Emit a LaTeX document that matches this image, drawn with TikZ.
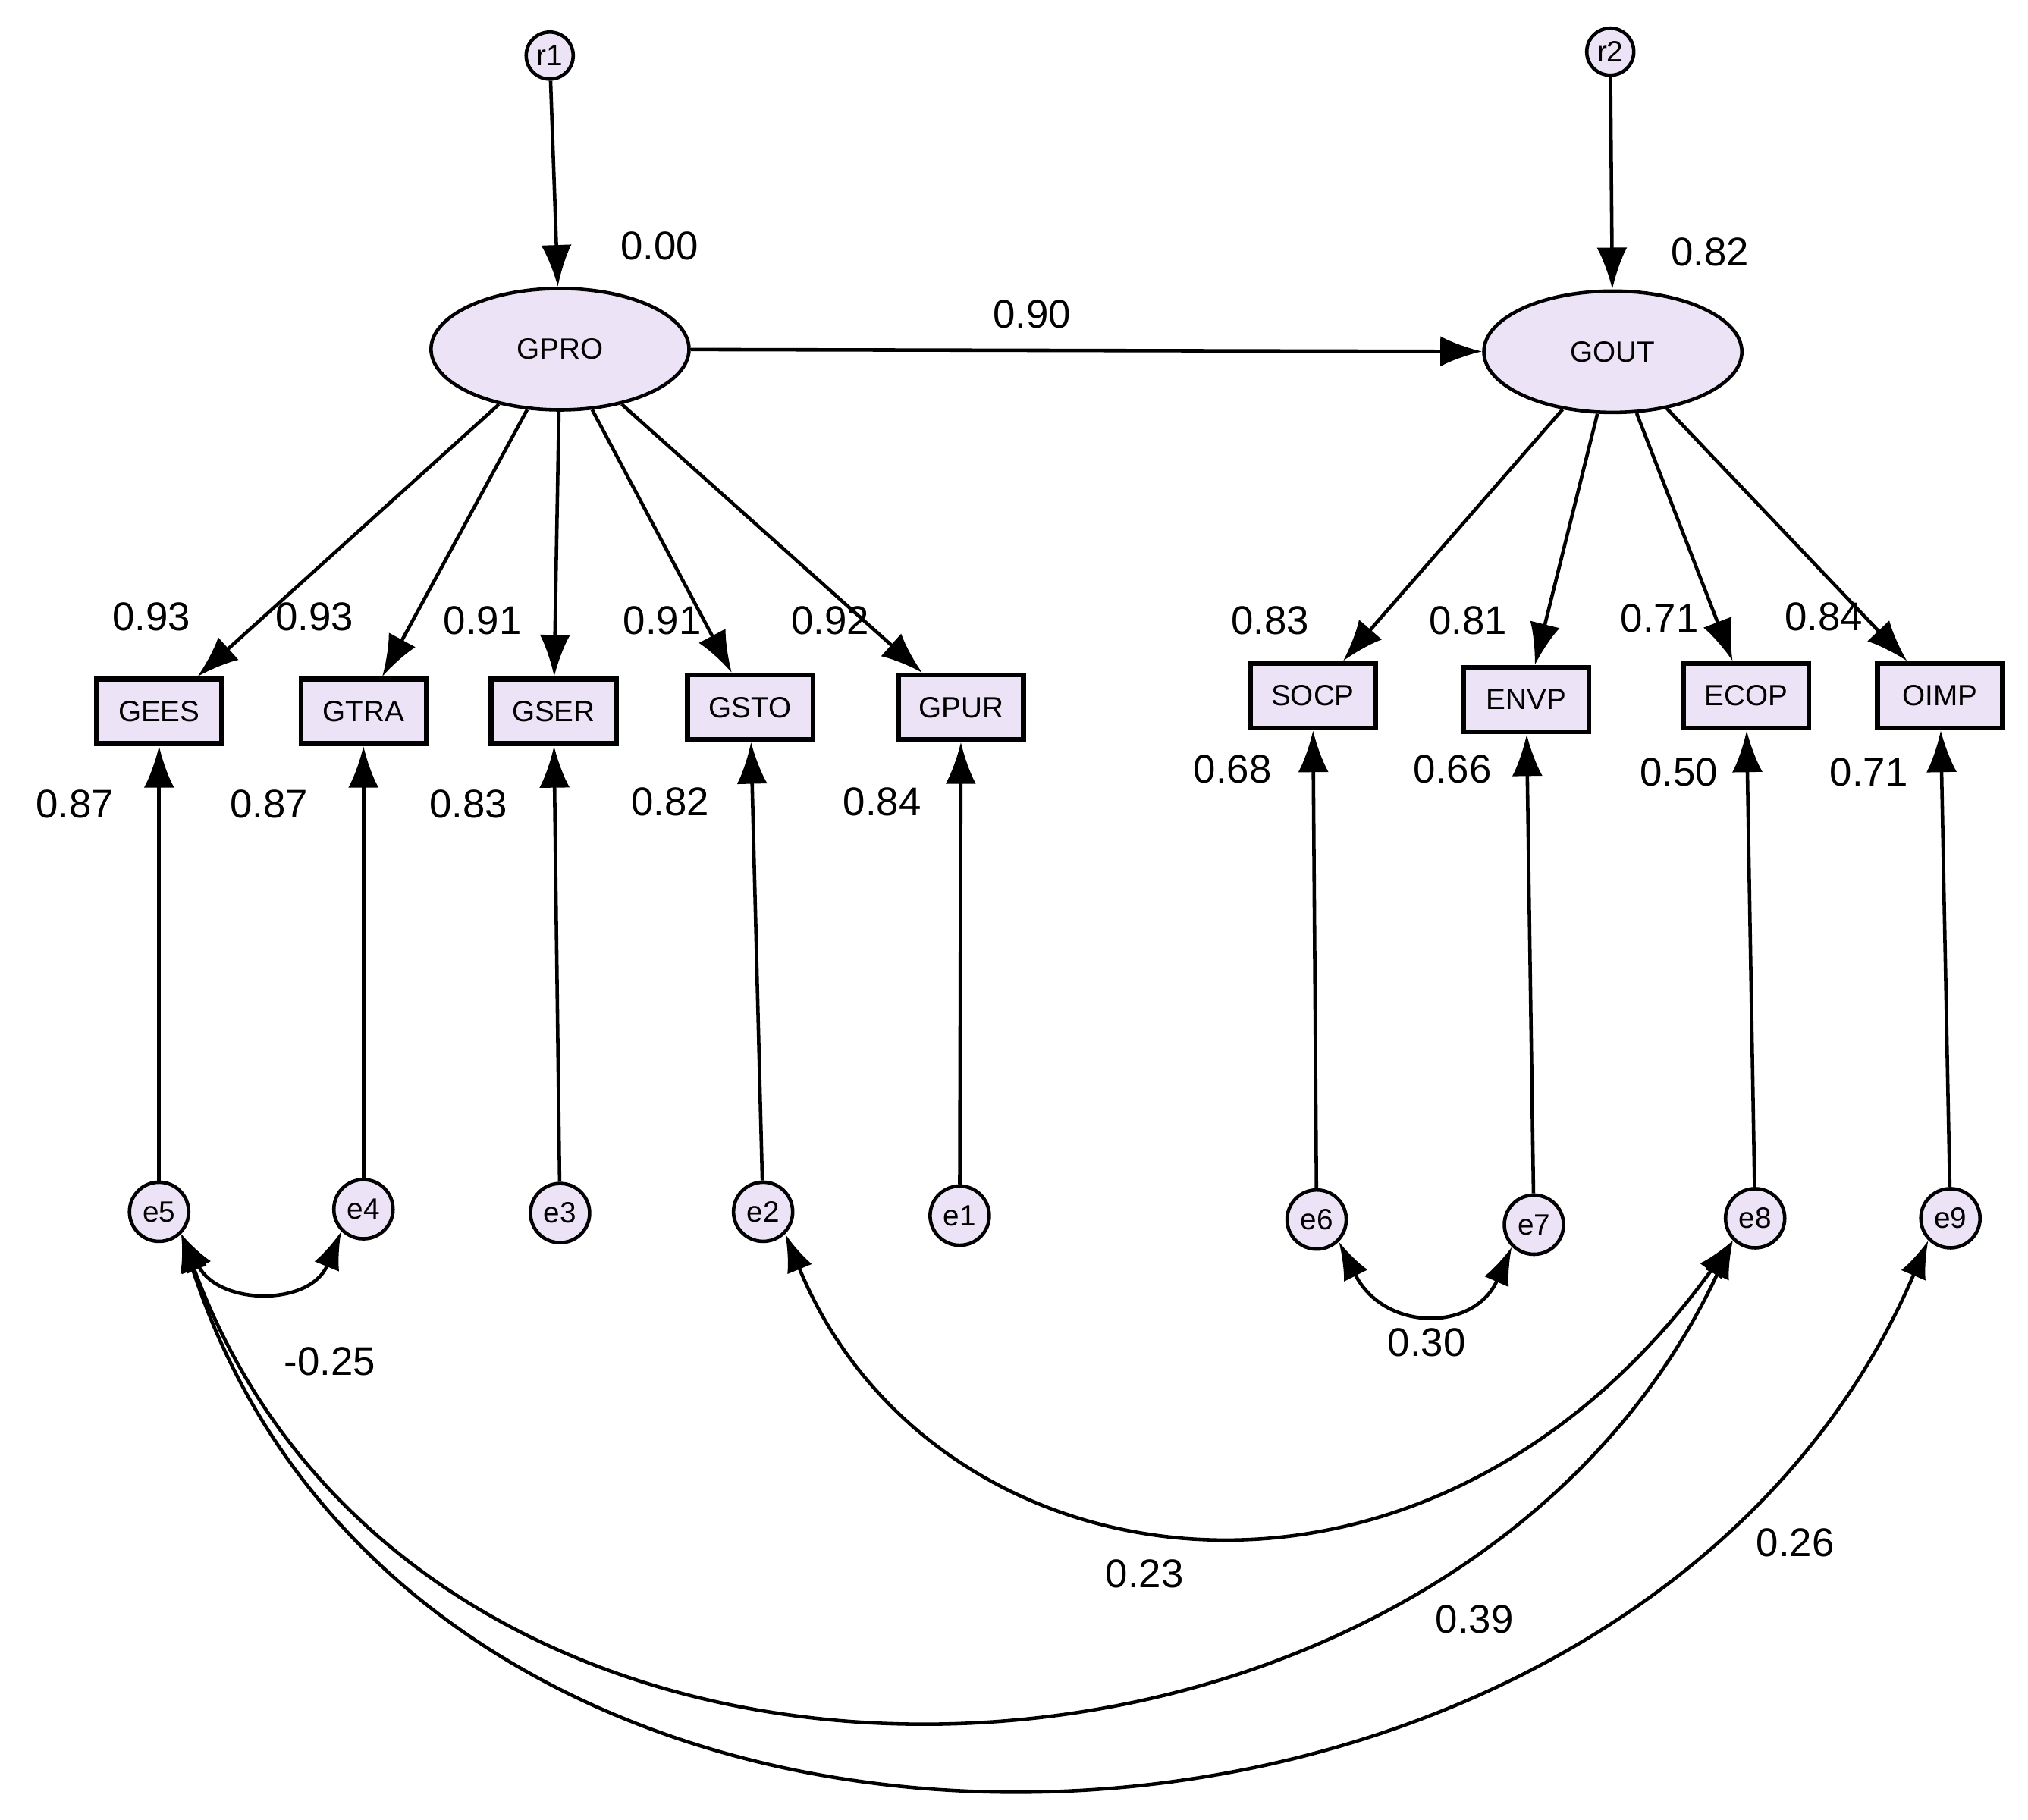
\documentclass[tikz,border=0pt]{standalone}
\usepackage{fontspec}
\setmainfont{Liberation Sans}
\usetikzlibrary{shapes.geometric,arrows.meta}
\definecolor{fillc}{RGB}{236,228,246}
\begin{document}
\begin{tikzpicture}[x=0.01705cm,y=-0.01705cm,line width=1.3pt,
 lat/.style={ellipse,draw,line width=1.3pt,fill=fillc,minimum width=3.4cm,minimum height=1.6cm,font=\fontsize{11}{13}\selectfont},
 obs/.style={rectangle,draw,line width=1.8pt,fill=fillc,minimum width=1.65cm,minimum height=0.85cm,font=\fontsize{11}{13}\selectfont},
 err/.style={circle,draw,line width=1.3pt,fill=fillc,minimum size=0.78cm,inner sep=0pt,font=\fontsize{11}{13}\selectfont},
 res/.style={circle,draw,line width=1.3pt,fill=fillc,minimum size=0.62cm,inner sep=0pt,font=\fontsize{11}{13}\selectfont},
 lab/.style={font=\fontsize{15}{18}\selectfont},
 ar/.style={-{Latex[length=0.55cm,width=0.4cm]}},
 cv/.style={{Latex[length=0.5cm,width=0.35cm]}-{Latex[length=0.5cm,width=0.35cm]}}]
\useasboundingbox (0,0) rectangle (1568,1407);
\node[res] (r1) at (425,43) {r1};
\node[res] (r2) at (1245,40) {r2};
\node[lat] (GPRO) at (433,270) {GPRO};
\node[lat] (GOUT) at (1247,272) {GOUT};
\foreach \n/\x/\y in {GEES/123/550,GTRA/281/550,GSER/428/550,GSTO/580/547,GPUR/743/547,SOCP/1015/538,ENVP/1180/541,ECOP/1350/538,OIMP/1500/538}
  \node[obs] (\n) at (\x,\y) {\n};
\foreach \n/\x/\y in {e5/123/937,e4/281/935,e3/433/938,e2/590/937,e1/742/940,e6/1018/943,e7/1186/947,e8/1357/942,e9/1508/942}
  \node[err] (\n) at (\x,\y) {\n};
\draw[ar] (r1) -- (GPRO);
\draw[ar] (r2) -- (GOUT);
\draw[ar] (GPRO) -- (GOUT);
\foreach \b in {GEES,GTRA,GSER,GSTO,GPUR} \draw[ar] (GPRO) -- (\b);
\foreach \b in {SOCP,ENVP,ECOP,OIMP} \draw[ar] (GOUT) -- (\b);
\foreach \e/\b in {e5/GEES,e4/GTRA,e3/GSER,e2/GSTO,e1/GPUR,e6/SOCP,e7/ENVP,e8/ECOP,e9/OIMP} \draw[ar] (\e) -- (\b);
\draw[cv] (e5.south east) .. controls (170,1010) and (240,1010) .. (e4.south west);
\draw[cv] (e6.south east) .. controls (1070,1030) and (1140,1030) .. (e7.south west);
\draw[cv] (e2.south east) .. controls (720,1230) and (1100,1290) .. (e8.south west);
\draw[cv] (e5.south east) .. controls (330,1470) and (1120,1430) .. (e8.south west);
\draw[cv] (e5.south east) .. controls (330,1540) and (1260,1500) .. (e9.south west);
\node[lab] (l1) at (510,190) {0.00};
\node[lab] (l2) at (1322,195) {0.82};
\node[lab] (l3) at (798,243) {0.90};
\foreach \t/\x/\y [count=\i] in {0.93/117/477,0.93/243/477,0.91/373/480,0.91/512/480,0.92/642/480,0.83/982/480,0.81/1135/480,0.71/1283/478,0.84/1410/477,0.87/58/622,0.87/208/622,0.83/362/622,0.82/518/620,0.84/682/620,0.68/953/595,0.66/1123/595,0.50/1298/597,0.71/1445/597,-0.25/255/1053,0.30/1103/1038,0.23/885/1217,0.39/1140/1252,0.26/1388/1193}
  \node[lab] (t\i) at (\x,\y) {\t};
\end{tikzpicture}
\end{document}
